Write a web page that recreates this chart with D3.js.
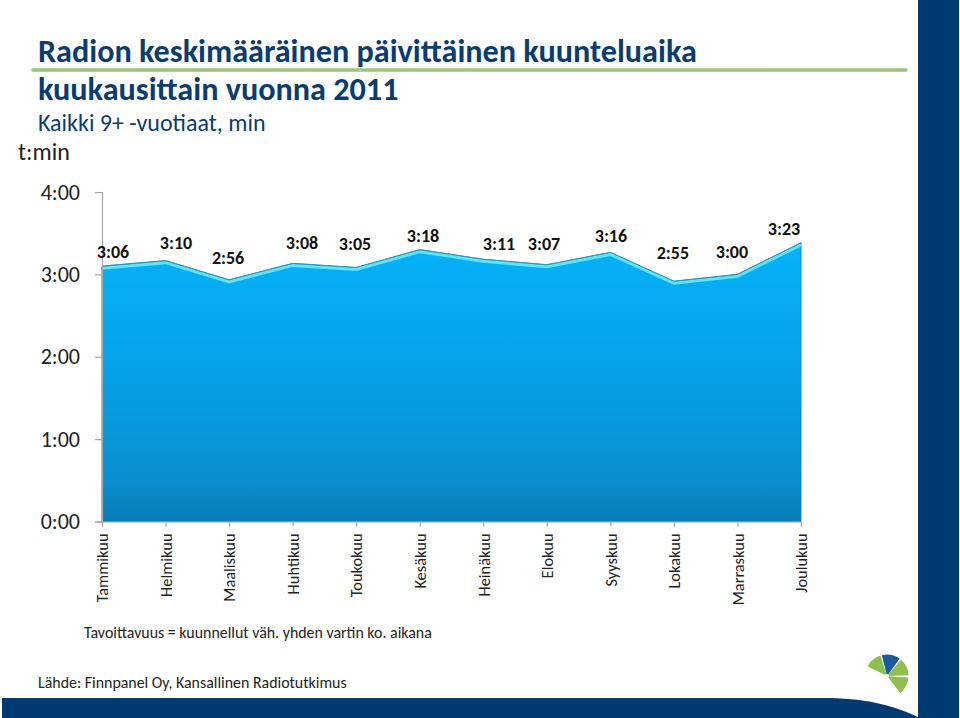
<!DOCTYPE html>
<html>
<head>
<meta charset="utf-8">
<script src="https://cdn.jsdelivr.net/npm/d3@7/dist/d3.min.js"></script>
<style>
html, body { margin: 0; padding: 0; background: #fff; }
svg { display: block; }
text { font-family: Carlito, Lato, "Open Sans", sans-serif; }
</style>
</head>
<body>
<div id="chart"></div>
<script>
var months = ['Tammikuu', 'Helmikuu', 'Maaliskuu', 'Huhtikuu', 'Toukokuu', 'Kesäkuu',
    'Heinäkuu', 'Elokuu', 'Syyskuu', 'Lokakuu', 'Marraskuu', 'Joulukuu'];
var minutes = [186, 190, 176, 188, 185, 198, 191, 187, 196, 175, 180, 203];
var yTicks = [0, 60, 120, 180, 240];
var titleLines = ['Radion keskimääräinen päivittäinen kuunteluaika', 'kuukausittain vuonna 2011'];
// the labels were placed by hand in the original slide
var labelDx = [11, 10.5, -1, 9.4, -1.2, 3.3, 15.7, -2.8, 0.6, -1, -5.5, -17];
var labelDy = [-14, -17.6, -21.8, -20.4, -23.5, -13.6, -15.3, -20.7, -16.4, -28.2, -22.4, -13.8];

var navy = '#003a70', titleBlue = '#0b3c6e', textCol = '#222';

function fmt(m) {
    return Math.floor(m / 60) + ':' + d3.format('02')(m % 60);
}

var svg = d3.select('#chart').append('svg').attr('width', 960).attr('height', 718);

var x = d3.scalePoint().domain(months).range([102, 801]);
var y = d3.scaleLinear().domain([0, 240]).range([521.5, 192]);

var defs = svg.append('defs');
var grad = defs.append('linearGradient').attr('id', 'areaFill')
    .attr('x1', 0).attr('y1', 0).attr('x2', 0).attr('y2', 1);
grad.append('stop').attr('offset', '0%').attr('stop-color', '#05b2f8');
grad.append('stop').attr('offset', '50%').attr('stop-color', '#06a0e6');
grad.append('stop').attr('offset', '85%').attr('stop-color', '#0a8fd0');
grad.append('stop').attr('offset', '100%').attr('stop-color', '#0a7cb6');

// slide frame
svg.append('rect').attr('x', 918).attr('y', 0).attr('width', 41).attr('height', 718).attr('fill', navy);
svg.append('path')
    .attr('d', 'M2,698 L830,698 C870,699 895,706 920,718 L2,718 Z')
    .attr('fill', navy);

// title
svg.append('g').selectAll('text').data(titleLines).enter().append('text')
    .attr('x', 38)
    .attr('y', function(d, i) { return 62 + i * 38; })
    .attr('font-size', 32.2)
    .attr('font-weight', 700)
    .attr('fill', titleBlue)
    .text(function(d) { return d; });
svg.append('line')
    .attr('x1', 33).attr('x2', 906).attr('y1', 70).attr('y2', 70)
    .attr('stroke', '#9cc47c').attr('stroke-width', 3.5).attr('stroke-linecap', 'round');
svg.append('text').attr('x', 38).attr('y', 131).attr('font-size', 24)
    .attr('fill', titleBlue).text('Kaikki 9+ -vuotiaat, min');
svg.append('text').attr('x', 18).attr('y', 160).attr('font-size', 24)
    .attr('fill', textCol).text('t:min');

// area
var area = d3.area()
    .x(function(d, i) { return x(months[i]); })
    .y0(y(0))
    .y1(function(d) { return y(d); });
var topLine = d3.line()
    .x(function(d, i) { return x(months[i]); })
    .y(function(d) { return y(d); });

svg.append('path').datum(minutes)
    .attr('d', area)
    .attr('fill', 'url(#areaFill)')
    .attr('stroke', '#1c86b8')
    .attr('stroke-width', 1);
svg.append('path').datum(minutes)
    .attr('d', topLine)
    .attr('fill', 'none')
    .attr('stroke', '#5fe4fa')
    .attr('stroke-width', 3)
    .attr('transform', 'translate(0,2)');
svg.append('path').datum(minutes)
    .attr('d', topLine)
    .attr('fill', 'none')
    .attr('stroke', '#2a9cc4')
    .attr('stroke-width', 0.8);

// axes
var yAxis = svg.append('g')
    .attr('transform', 'translate(102,0)')
    .call(d3.axisLeft(y).tickValues(yTicks).tickFormat(fmt).tickSize(7).tickPadding(15));
yAxis.selectAll('text').attr('font-size', 22).attr('fill', textCol)
    .style('font-family', 'Carlito, Lato, sans-serif');

var xAxis = svg.append('g')
    .attr('transform', 'translate(0,521.5)')
    .call(d3.axisBottom(x).tickSize(5).tickPadding(6));
xAxis.selectAll('text')
    .attr('font-size', 16.4)
    .attr('fill', textCol)
    .style('font-family', 'Carlito, Lato, sans-serif')
    .attr('text-anchor', 'end')
    .attr('transform', 'rotate(-90)')
    .attr('x', -12)
    .attr('y', 0)
    .attr('dy', '0.35em');

svg.selectAll('.domain, .tick line').attr('stroke', '#a6a6a6').attr('stroke-width', 1.2);

// value labels
svg.append('g').selectAll('text').data(minutes).enter().append('text')
    .attr('x', function(d, i) { return x(months[i]) + labelDx[i]; })
    .attr('y', function(d, i) { return y(d) + labelDy[i]; })
    .attr('dy', '0.35em')
    .attr('text-anchor', 'middle')
    .attr('font-size', 18)
    .attr('font-weight', 700)
    .attr('fill', '#111')
    .text(fmt);

// notes
svg.append('text').attr('x', 84).attr('y', 638).attr('font-size', 15.9)
    .attr('fill', textCol).text('Tavoittavuus = kuunnellut väh. yhden vartin ko. aikana');
svg.append('text').attr('x', 38).attr('y', 688).attr('font-size', 15.9)
    .attr('fill', textCol).text('Lähde: Finnpanel Oy, Kansallinen Radiotutkimus');

// logo
var wedges = [
    { from: -64, to: -18, fill: '#8fc04f' },
    { from: -14, to: 36, fill: '#1d5a9c' },
    { from: 41, to: 88, fill: '#8fc04f' },
    { from: 94, to: 142, fill: '#8fc04f' }
];
var arc = d3.arc().innerRadius(2).outerRadius(21.5);
svg.append('g').attr('transform', 'translate(887,676)')
    .selectAll('path').data(wedges).enter().append('path')
    .attr('d', function(d) {
        return arc({ startAngle: d.from * Math.PI / 180, endAngle: d.to * Math.PI / 180 });
    })
    .attr('fill', function(d) { return d.fill; });
</script>
</body>
</html>
